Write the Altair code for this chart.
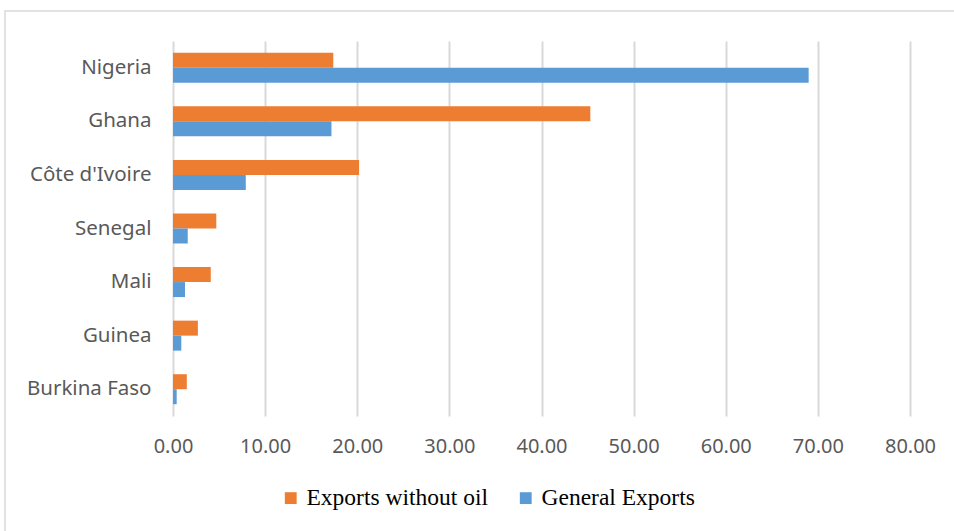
import altair as alt
import pandas as pd

countries = ["Nigeria", "Ghana", "Côte d'Ivoire", "Senegal", "Mali", "Guinea", "Burkina Faso"]
series = ["Exports without oil", "General Exports"]
without_oil = [17.4, 45.3, 20.2, 4.7, 4.1, 2.7, 1.5]
general = [69.0, 17.2, 7.9, 1.6, 1.3, 0.9, 0.4]
x_ticks = [0, 10, 20, 30, 40, 50, 60, 70, 80]

rows = []
for c, a, b in zip(countries, without_oil, general):
    rows.append({"country": c, "series": series[0], "value": a})
    rows.append({"country": c, "series": series[1], "value": b})
df = pd.DataFrame(rows)

W, H = 737, 375

bars = alt.Chart(df).mark_bar().encode(
    x=alt.X("value:Q", scale=alt.Scale(domain=[0, 80]),
            axis=alt.Axis(values=x_ticks, format=".2f", title=None, grid=True,
                          gridColor="#d9d9d9", gridWidth=2, domain=False, ticks=False,
                          labelFont="Noto Sans", labelFontSize=20, labelColor="#595959",
                          labelPadding=20, labelFlush=False)),
    y=alt.Y("country:N", sort=countries,
            scale=alt.Scale(paddingInner=0.44, paddingOuter=0.22),
            axis=alt.Axis(title=None, domain=False, ticks=False, labelFont="Noto Sans",
                          labelFontSize=20.5, labelColor="#595959", labelPadding=22)),
    yOffset=alt.YOffset("series:N", sort=series, scale=alt.Scale(paddingInner=0, paddingOuter=0)),
    color=alt.Color("series:N", sort=series,
                    scale=alt.Scale(domain=series, range=["#ED7D31", "#5B9BD5"]),
                    legend=alt.Legend(title=None, orient="none", direction="horizontal",
                                      legendX=106, legendY=445, symbolType="square",
                                      symbolSize=140, symbolStrokeWidth=0,
                                      labelFont="Liberation Serif", labelFontSize=23.5,
                                      labelColor="#000000", columnPadding=26, labelOffset=4,
                                      labelLimit=400)),
)

border = alt.Chart(pd.DataFrame({"a": [0]})).mark_rect(
    fill=None, stroke="#d9d9d9", strokeWidth=1.5
).encode(x=alt.value(-168), x2=alt.value(800), y=alt.value(-30), y2=alt.value(560))

chart = alt.layer(border, bars).properties(
    width=W, height=H,
    autosize=alt.AutoSizeParams(type="none"),
    padding={"left": 173, "top": 41, "right": 44, "bottom": 115},
).configure_view(stroke=None)

chart.save("out.html", embed_options={"renderer": "svg", "actions": False})
